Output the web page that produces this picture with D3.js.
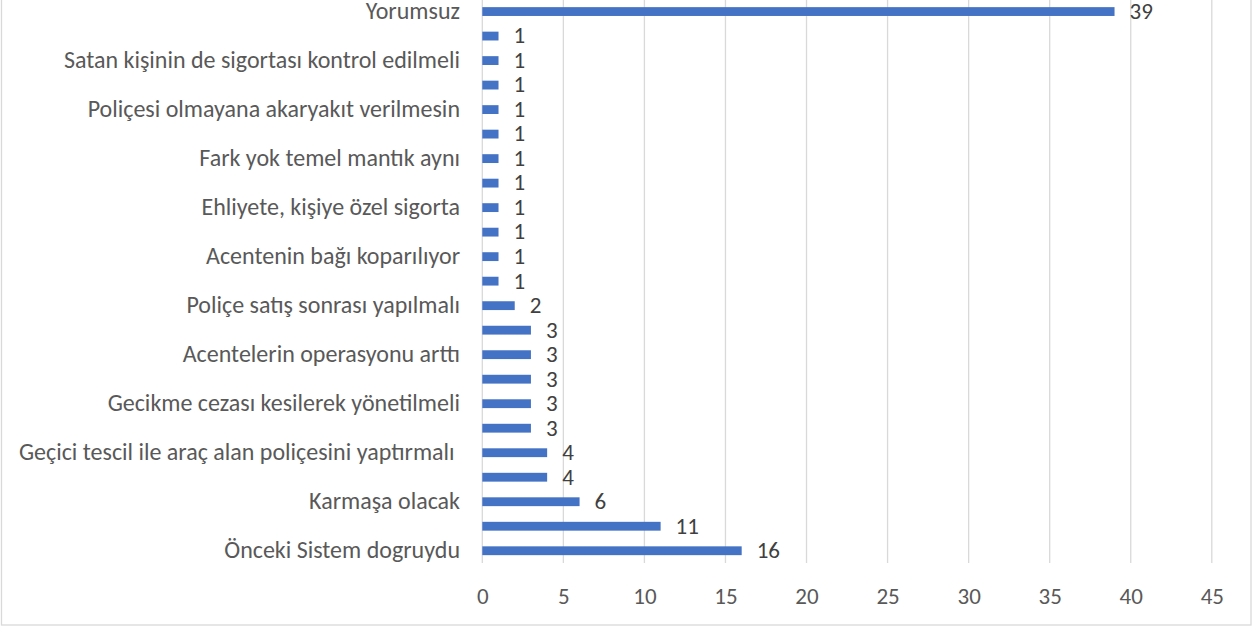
<!DOCTYPE html>
<html><head><meta charset="utf-8">
<script src="https://cdn.jsdelivr.net/npm/d3@7"></script>
<style>
html,body{margin:0;padding:0;background:#fff;}
svg text{font-family:Carlito, Lato, "Liberation Sans", sans-serif; white-space:pre;}
</style></head>
<body>
<svg id="c" width="1253" height="627"></svg>
<script>
const categories = ["Yorumsuz", "", "Satan kişinin de sigortası kontrol edilmeli", "", "Poliçesi olmayana akaryakıt verilmesin", "", "Fark yok temel mantık aynı", "", "Ehliyete, kişiye özel sigorta", "", "Acentenin bağı koparılıyor", "", "Poliçe satış sonrası yapılmalı", "", "Acentelerin operasyonu arttı", "", "Gecikme cezası kesilerek yönetilmeli", "", "Geçici tescil ile araç alan poliçesini yaptırmalı ", "", "Karmaşa olacak", "", "Önceki Sistem dogruydu"];
const values = [39, 1, 1, 1, 1, 1, 1, 1, 1, 1, 1, 1, 2, 3, 3, 3, 3, 3, 4, 4, 6, 11, 16];
const xTicks = [0, 5, 10, 15, 20, 25, 30, 35, 40, 45];

const svg = d3.select("#c");
// chart border
svg.append("rect").attr("x",1.5).attr("y",-5).attr("width",1249.5).attr("height",630)
  .attr("fill","none").attr("stroke","#d9d9d9").attr("stroke-width",1.3);

const x = d3.scaleLinear().domain([0,45]).range([482.3, 1211.8]);
const y = d3.scaleBand().domain(d3.range(categories.length)).range([-0.7, 563])
  .paddingInner(0.64).paddingOuter(0.32);

// gridlines
svg.append("g").selectAll("line").data(xTicks).join("line")
  .attr("x1",d=>x(d)).attr("x2",d=>x(d)).attr("y1",-1).attr("y2",563)
  .attr("stroke","#d9d9d9").attr("stroke-width",1.3);

// x axis labels
const xAxis = d3.axisBottom(x).tickValues(xTicks).tickSize(0).tickPadding(0);
const gx = svg.append("g").attr("transform","translate(0,603.5)").call(xAxis);
gx.select(".domain").remove();
gx.selectAll("text").attr("fill","#595959").style("font-size","23px").attr("dy",0).attr("y",0);

// y axis labels
const yAxis = d3.axisLeft(y).tickFormat(i=>categories[i]).tickSize(0).tickPadding(0);
const gy = svg.append("g").attr("transform","translate(460,0)").call(yAxis);
gy.select(".domain").remove();
gy.selectAll("text").attr("fill","#595959").style("font-size","24px").attr("dy","0.32em");

// bars
svg.append("g").selectAll("rect").data(values).join("rect")
  .attr("x",x(0)).attr("y",(d,i)=>y(i)).attr("width",d=>x(d)-x(0)).attr("height",y.bandwidth())
  .attr("fill","#4472c4");

// value labels
svg.append("g").selectAll("text").data(values).join("text")
  .attr("x",d=>x(d)+15).attr("y",(d,i)=>y(i)+y.bandwidth()/2).attr("dy","0.32em")
  .attr("fill","#404040").style("font-size","23px").text(d=>d);
</script>
</body></html>
